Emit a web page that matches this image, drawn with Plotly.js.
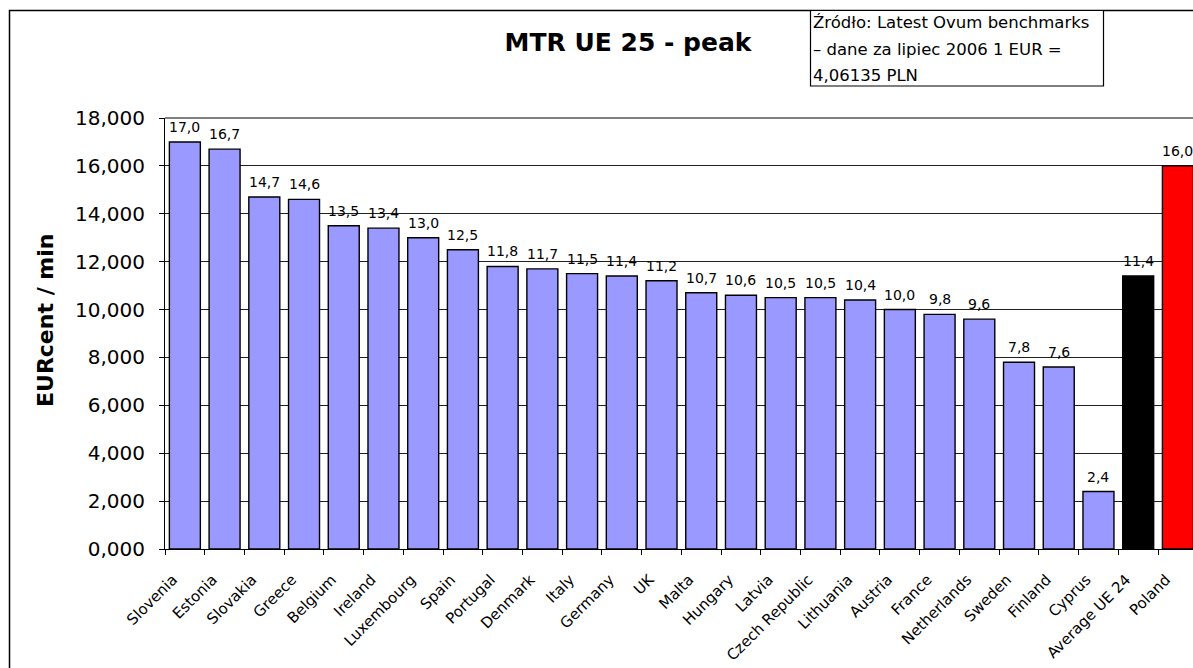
<!DOCTYPE html>
<html>
<head>
<meta charset="utf-8">
<script src="https://cdn.plot.ly/plotly-3.0.1.min.js"></script>
<style>
html,body{margin:0;padding:0;background:#fff;overflow:hidden;}
#chart{width:1193px;height:668px;}
</style>
</head>
<body>
<div id="chart"></div>
<script>
const categories = ["Slovenia","Estonia","Slovakia","Greece","Belgium","Ireland","Luxembourg","Spain","Portugal","Denmark","Italy","Germany","UK","Malta","Hungary","Latvia","Czech Republic","Lithuania","Austria","France","Netherlands","Sweden","Finland","Cyprus","Average UE 24","Poland"];
const values = [17.0,16.7,14.7,14.6,13.5,13.4,13.0,12.5,11.8,11.7,11.5,11.4,11.2,10.7,10.6,10.5,10.5,10.4,10.0,9.8,9.6,7.8,7.6,2.4,11.4,16.0];
const barColors = categories.map(c => c === "Poland" ? "#FF0000" : (c === "Average UE 24" ? "#000000" : "#9999FF"));
const yTickVals = [0,2,4,6,8,10,12,14,16,18];
const yTickText = ["0,000","2,000","4,000","6,000","8,000","10,000","12,000","14,000","16,000","18,000"];
const chartTitle = "MTR UE 25 - peak";
const yTitle = "EURcent / min";
const sourceLines = ["Źródło: Latest Ovum benchmarks", "– dane za lipiec 2006 1 EUR =", "4,06135 PLN"];

const FONT = "DejaVu Sans, Arial, sans-serif";
const labels = values.map(v => v.toFixed(1).replace(".", ","));

const trace = {
  type: "bar",
  x: categories,
  y: values,
  marker: {color: barColors, line: {color: "#000", width: 1.4}},
  hoverinfo: "x+y"
};

const L = 165, R = 0, T = 118, B = 119;
const W = 1193, H = 668;
const pw = W - L - R, ph = H - T - B;
const px = x => (x - L) / pw;
const py = y => (H - B - y) / ph;

const valueAnns = categories.map((c, i) => ({
  xref: "x", yref: "y", x: c, y: values[i],
  text: labels[i], showarrow: false,
  xanchor: "center", yanchor: "bottom", yshift: 5,
  font: {family: FONT, size: 14, color: "#000"}
}));

const sourceYs = [23, 49, 75];
const sourceAnns = sourceLines.map((t, i) => ({
  xref: "paper", yref: "paper", x: px(810.5), y: py(sourceYs[i]),
  xanchor: "left", yanchor: "middle", text: t, showarrow: false,
  font: {family: FONT, size: 16.5, color: "#000"}
}));

const yTitleAnn = {
  xref: "paper", yref: "paper", x: px(45), y: py(321),
  xanchor: "center", yanchor: "middle", textangle: -90,
  text: "<b>" + yTitle + "</b>", showarrow: false,
  font: {family: FONT, size: 22, color: "#000"}
};

const layout = {
  width: W, height: H,
  margin: {l: L, r: R, t: T, b: B, pad: 0},
  paper_bgcolor: "#fff",
  plot_bgcolor: "#fff",
  bargap: 0.22,
  showlegend: false,
  font: {family: FONT, color: "#000"},
  title: {
    text: "<b>" + chartTitle + "</b>",
    font: {family: FONT, size: 25, color: "#000"},
    x: px(628), xref: "paper", xanchor: "center",
    y: 1 - 42 / H, yref: "container", yanchor: "middle"
  },
  xaxis: {
    type: "category",
    range: [-0.5, 25.38],
    tickangle: -45,
    tickfont: {family: FONT, size: 15, color: "#000"},
    ticks: "outside", ticklen: 5, tickcolor: "#000",
    tickson: "boundaries",
    ticklabelshift: -12, ticklabelstandoff: 15,
    showline: true, linecolor: "#000", linewidth: 1,
    showgrid: false, zeroline: false, fixedrange: true
  },
  yaxis: {
    range: [0, 18],
    tickvals: yTickVals, ticktext: yTickText,
    tickfont: {family: FONT, size: 20, color: "#000"},
    ticks: "outside", ticklen: 5, tickcolor: "#000",
    ticklabelstandoff: 10,
    showline: true, linecolor: "#000", linewidth: 1,
    showgrid: true, gridcolor: "#202020", gridwidth: 1,
    zeroline: false, fixedrange: true
  },
  shapes: [
    {type: "rect", xref: "paper", yref: "paper", x0: px(9.5), x1: 1.05, y0: -0.5, y1: py(10.5),
     line: {color: "#000", width: 1.5}, fillcolor: "rgba(0,0,0,0)", layer: "below"},
    {type: "line", xref: "paper", yref: "paper", x0: 0, x1: 1.05, y0: 1, y1: 1,
     line: {color: "#808080", width: 2}, layer: "below"},
    {type: "rect", xref: "paper", yref: "paper", x0: px(810.5), x1: px(1103.5), y0: py(86), y1: py(10.5),
     line: {color: "#000", width: 1.2}, fillcolor: "#fff", layer: "above"}
  ],
  annotations: valueAnns.concat(sourceAnns, [yTitleAnn])
};

Plotly.newPlot("chart", [trace], layout, {displayModeBar: false, staticPlot: true});
</script>
</body>
</html>
